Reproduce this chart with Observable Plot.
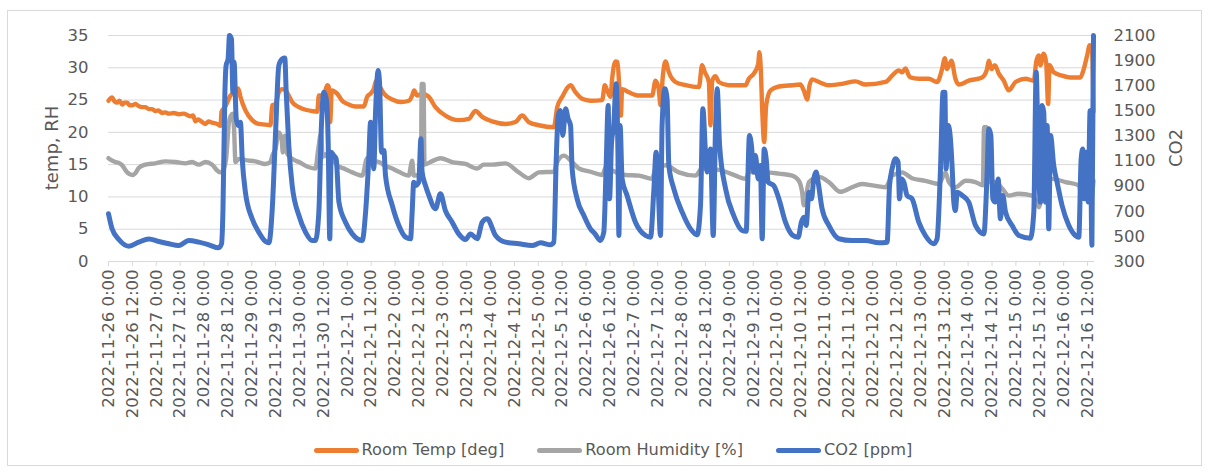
<!DOCTYPE html>
<html>
<head>
<meta charset="utf-8">
<script src="https://cdn.jsdelivr.net/npm/d3@7"></script>
<script src="https://cdn.jsdelivr.net/npm/@observablehq/plot@0.6"></script>
<style>
  body { margin: 0; background: #fff; }
  #chart { position: relative; width: 1212px; height: 474px; font-family: "DejaVu Sans", sans-serif; color: #595959; overflow: hidden; }
  #frame { position: absolute; left: 7px; top: 10px; width: 1195px; height: 456px; border: 1px solid #d9d9d9; box-sizing: border-box; }
  #plot { position: absolute; left: 0; top: 0; }
  .ytitle { position: absolute; font-size: 18px; white-space: nowrap; transform: translate(-50%, -50%) rotate(-90deg); }
  #legend { position: absolute; left: 0; top: 439px; width: 1226px; display: flex; justify-content: center; gap: 33px; font-size: 16.2px; line-height: 22px; }
  .item { display: flex; align-items: center; white-space: nowrap; }
  .swatch { width: 45px; height: 5px; border-radius: 3px; margin-right: 3px; }
</style>
</head>
<body>
<div id="chart">
  <div id="frame"></div>
  <div id="plot"></div>
  <div class="ytitle" style="left:51px; top:148px;">temp, RH</div>
  <div class="ytitle" style="left:1175px; top:148px;">CO2</div>
  <div id="legend"></div>
</div>
<script>
// Readings as [hours since 2022-11-26 0:00, value]
const startTime = Date.UTC(2022, 10, 26, 0, 0);

const tempReadings = [
  [0,24.9],[1.8,25.4],[3,24.8],[4.4,24.6],[5.5,24.9],[6.9,24.3],[8,24.6],[9.4,24.6],[10.5,24.2],[11.9,24.2],
  [13.6,24.4],[15,24.1],[16.9,23.9],[18.5,23.9],[20.3,23.6],[22,23.6],[23.6,23.3],[25,23.4],[27,23.0],[28.5,23.1],
  [30.3,22.9],[32.8,23.0],[35.3,22.8],[37.9,22.9],[39.5,22.7],[41.2,22.5],[42.5,22.6],[43.7,21.7],[45,22.0],[46.2,21.8],
  [48.7,21.3],[50.3,21.7],[52.1,21.5],[54.6,21.3],[56.3,21.0],[56.8,23.2],[58.5,23.9],[61.3,25.7],[64.2,26.5],[65.2,26.8],
  [66.3,25.5],[68.8,23.4],[72.2,21.9],[75.5,21.3],[78.9,21.2],[81.4,21.1],[82.3,24.2],[83.9,24.4],[85.6,26.2],[87.3,26.7],
  [89,26.5],[90.6,25.7],[92.3,24.7],[95.7,23.9],[99,23.5],[102.4,23.3],[104.9,23.2],[105.7,25.7],[108.2,25.7],[109.9,27.3],
  [110.7,27.0],[111.4,21.6],[112.2,26.5],[114.9,26.0],[117.4,24.9],[120.8,24.3],[124.1,24.0],[128.3,24.0],[130,25.5],[131.7,26.0],
  [133.3,26.7],[134.5,28.0],[135.9,27.3],[138.4,26.0],[142.6,25.1],[147,24.7],[150.9,24.9],[152.6,25.7],[153.6,26.5],[155.1,25.7],
  [157.6,26.0],[161,25.5],[164.3,23.9],[169.3,22.6],[176,21.9],[181.1,22.1],[184.4,23.3],[187.8,22.4],[192.8,21.7],[199.5,21.3],
  [204.5,21.6],[207.9,22.6],[211.2,21.6],[216.3,21.1],[223.8,20.8],[225.5,23.9],[228,25.5],[232.2,27.3],[234.7,26.2],[238,25.2],
  [242.2,24.9],[248.1,25.0],[249.4,27.3],[250.6,26.5],[252.3,25.5],[253.1,28.3],[254.8,31.0],[255.8,30.9],[256.8,26.2],[257.5,22.6],
  [258.1,26.7],[261.5,26.2],[266.5,25.7],[273.2,25.7],[274.9,28.0],[276.5,26.7],[277.4,24.2],[278.6,28.8],[279.9,31.0],[281.6,29.3],
  [284.9,27.8],[290,27.3],[296.7,27.0],[298.3,30.4],[299.7,29.3],[301.7,27.8],[302.5,21.1],[303.4,28.0],[305,28.7],[306.7,27.8],
  [311.7,27.3],[320.1,27.3],[321.8,28.3],[324.3,29.1],[326.5,30.6],[327.1,32.4],[327.8,29.8],[328.5,23.6],[329.5,18.5],[330.5,24.2],
  [332.7,26.5],[336.9,27.1],[343.6,27.3],[347.7,27.4],[349.4,26.5],[351.1,25.1],[352.3,27.3],[353.6,28.2],[357,27.8],[362,27.3],
  [368.7,27.5],[375.4,27.9],[380.4,27.4],[390.5,27.8],[393.8,28.8],[397.2,29.6],[398.8,29.3],[400.5,29.9],[402.2,28.8],[403,28.5],
  [407.2,28.3],[412.2,28.3],[416.4,27.8],[418.9,29.8],[420.3,31.5],[421.4,29.8],[423.6,31.1],[425.6,28.3],[427.3,27.4],[432.3,28.0],
  [439,28.5],[441.5,29.8],[442.4,31.1],[443.7,29.8],[445.4,30.4],[447.4,29.1],[449.9,28.0],[452.4,26.5],[455.8,27.8],[460.8,28.3],
  [465,28.0],[466.2,30.9],[467.5,31.9],[468.3,30.4],[470,32.2],[471.2,30.9],[472.2,24.4],[472.9,30.4],[475,29.3],[479.2,28.8],
  [484.3,28.5],[488.4,28.5],[490.1,29.8],[491.8,31.9],[493.1,33.5],[494.2,33.0],[495,23.2]
];

const humidityReadings = [
  [0,16.0],[2,15.6],[3.5,15.4],[5,15.3],[6.9,14.9],[8,14.4],[9.4,13.8],[11.9,13.4],[13.6,13.7],[15.2,14.5],
  [18.6,15.0],[23.6,15.2],[28.6,15.5],[33.7,15.4],[38.7,15.2],[42,15.4],[45.4,15.0],[48.7,15.4],[52.1,15.0],[54.6,14.1],
  [56.3,13.8],[58,14.4],[59.1,15.9],[60.5,21.5],[61.5,22.6],[62.5,22.9],[63.1,20.5],[63.8,15.4],[65.5,15.9],[68.8,15.7],
  [73.9,15.5],[78.9,15.1],[81.4,15.4],[82.3,16.4],[83.9,17.4],[85.6,20.0],[87,19.0],[87.6,16.9],[88.6,19.5],[89.8,16.7],
  [92.3,15.9],[95.7,15.4],[100.7,14.6],[104,14.4],[105.4,17.4],[106.8,19.8],[107.6,16.2],[109.1,16.6],[110.7,15.9],[112.4,15.8],
  [114.9,14.9],[119.1,14.3],[122.5,13.8],[127.5,13.3],[130,16.0],[132.5,15.6],[135.9,15.4],[139.2,14.8],[142.6,14.4],[145.9,13.9],
  [150.9,13.3],[152.6,15.6],[153.4,13.3],[156,13.4],[157,13.3],[157.4,27.5],[158.3,27.5],[158.8,15.0],[161.8,15.4],[166.8,16.0],
  [172.7,15.4],[179.4,15.1],[185.3,14.4],[188.6,15.0],[192.8,15.0],[199.5,15.2],[206.2,13.8],[211.2,12.9],[216.3,13.8],[223.8,13.9],
  [225.5,15.4],[228.8,16.4],[233,15.4],[236.4,14.4],[242.2,13.9],[248.1,13.4],[250,14.6],[253.1,14.1],[259.8,13.4],[266.5,13.3],
  [273.2,12.8],[274.9,14.4],[279.9,14.9],[286.6,13.8],[295,13.3],[298.3,14.4],[306.7,14.2],[315.1,13.3],[320.1,12.8],[322.6,14.2],
  [323.5,13.8],[330.2,13.8],[336.9,13.6],[343.6,13.3],[346.9,12.5],[348.6,10.7],[349.4,8.7],[350.6,10.2],[352,12.3],[357,13.1],
  [362,12.3],[367.8,10.8],[373.7,11.5],[378.7,12.0],[383.8,11.8],[390.5,11.5],[393.8,13.3],[398.8,13.8],[403.8,12.9],[410.5,12.5],
  [417.3,12.0],[420.6,13.8],[422.3,12.3],[425.6,11.5],[430.7,12.5],[435.7,12.3],[439.4,11.8],[440,20.8],[441.2,20.8],[441.8,12.3],
  [445.7,12.3],[449.1,11.3],[452.4,10.2],[457.5,10.5],[464.2,10.2],[466,9.5],[467.5,8.4],[469.2,10.2],[474.2,12.8],[480.9,12.3],
  [487.6,11.8],[489.3,9.7],[491.8,10.5],[493.5,9.2],[495,12.5]
];

const co2Readings = [
  [0,680],[1.8,560],[5.2,475],[10.2,422],[15.2,454],[20.3,480],[25.3,459],[30.3,441],[35.3,427],[40.4,467],
  [45.4,454],[50.4,433],[55.4,409],[56.8,441],[57.5,693],[58.5,1650],[59.1,1861],[60.1,1914],[60.8,2100],[61.8,2073],
  [62.5,1649],[63.1,1888],[64.2,1436],[65.2,1383],[66.3,1410],[67.2,1118],[68.8,852],[72.2,640],[75.5,534],[78.9,459],
  [80.6,449],[82.3,720],[83.9,1304],[85.6,1861],[87.3,1914],[88.6,1920],[89.3,1649],[90.6,1224],[92.3,905],[95.7,666],
  [99,534],[102.4,467],[104,467],[105.7,693],[107,1383],[108.2,1649],[109.4,1596],[110.4,1250],[111.2,481],[111.9,1171],
  [113.2,1144],[114.4,1118],[115.8,773],[119.1,613],[122.5,520],[127.5,467],[129.2,693],[130.8,1118],[131.7,1410],[132.5,1383],
  [133.3,1038],[134.2,1489],[135.5,1821],[136.2,1728],[137.2,1171],[138.4,1184],[139.2,985],[142.6,746],[145.9,587],[149.3,494],
  [151.8,481],[152.6,693],[153.4,932],[154.3,905],[155.9,932],[157,1277],[157.6,1012],[159.3,905],[161,826],[164.3,720],
  [166.8,839],[169.3,706],[172.7,613],[176,520],[179.4,475],[181.9,520],[185.3,481],[187.8,613],[190.3,640],[194.5,507],
  [199.5,454],[206.2,441],[212.9,427],[217.1,449],[222.1,433],[223.8,454],[225,1118],[226,1463],[227.1,1503],[228.3,1304],
  [229.7,1516],[231,1436],[232.2,1383],[233,1038],[235.5,799],[238.9,666],[242.2,560],[244.5,520],[247.2,467],[248.9,534],
  [250.1,1065],[251.1,1543],[251.8,799],[252.8,1250],[253.9,1383],[255.1,1715],[256,1171],[256.5,507],[257.1,1383],[258.1,958],
  [260.6,826],[264.8,613],[269.9,507],[272.4,494],[274,852],[275.2,1171],[276.2,905],[277.4,507],[278.2,1383],[279.6,1675],
  [280.7,1596],[281.6,1065],[284.1,879],[288.3,693],[292.5,560],[295.8,512],[297.5,746],[298.7,1516],[300,1171],[300.8,1012],
  [302.5,1197],[303.9,507],[305,1330],[305.9,1675],[307.1,1224],[310.1,879],[314.2,666],[318.4,547],[320.5,540],[321.2,905],
  [322.1,1304],[323.1,1224],[324.3,1012],[325.1,1144],[326.5,958],[327.6,1065],[328.5,481],[329.5,1197],[330.5,1118],[331.5,932],
  [334.3,905],[336.9,799],[340.2,613],[343.6,512],[346.6,494],[348.2,613],[349.4,653],[350.6,587],[352,852],[353.3,799],
  [354.4,958],[355.6,1012],[356.6,932],[358.6,720],[362,587],[367,481],[373.7,467],[380.4,467],[387.1,449],[391.3,454],
  [392.5,905],[393.8,1038],[395.5,1118],[396.8,1091],[397.5,799],[398.5,958],[399.7,932],[401.3,826],[403.8,799],[407.2,613],
  [410.5,507],[414.7,441],[416.4,481],[418.1,1038],[419.4,1649],[420.3,1649],[420.9,1038],[422,1383],[423.1,1277],[424,1038],
  [424.8,773],[425.6,706],[426.5,852],[429,826],[432.3,773],[435.7,587],[439.9,520],[441.5,985],[442.4,1357],[443.4,1304],
  [444.4,799],[445.7,773],[447.1,958],[448.2,640],[449.4,826],[450.8,693],[454.1,587],[457.5,507],[463.3,486],[465,693],
  [466.2,1808],[467.2,1144],[468.3,773],[469.2,1543],[470,1489],[470.9,773],[471.7,1383],[472.5,560],[473.4,1304],[475,1065],
  [476.7,932],[479.2,746],[482.6,587],[485.9,507],[487.6,494],[488.8,1118],[489.6,1197],[490.4,799],[491.3,1171],[492.3,773],
  [493.3,1500],[494.2,430],[495,2100]
];

const seriesNames = ["Room Temp [deg]", "Room Humidity [%]", "CO2 [ppm]"];
const seriesColors = ["#ED7D31", "#A5A5A5", "#4472C4"];
const leftTicks = [0, 5, 10, 15, 20, 25, 30, 35];
const co2Ticks = [300, 500, 700, 900, 1100, 1300, 1500, 1700, 1900, 2100];
const tickStepHours = 12;
const lastTickHour = 492;
const endHour = 495.5;

// CO2 shares the plot with the left scale: 300–2100 ppm spans 0–35
const co2Min = 300, co2Max = 2100, leftMax = 35;
const toLeft = (ppm) => (ppm - co2Min) / (co2Max - co2Min) * leftMax;
const toDate = (h) => new Date(startTime + h * 3600e3);

const xTicks = d3.range(0, lastTickHour + 1, tickStepHours).map(toDate);
const fmtDate = (d) => `${d.getUTCFullYear()}-${d.getUTCMonth() + 1}-${d.getUTCDate()} ${d.getUTCHours()}:00`;

const lineOpts = { strokeLinejoin: "round", strokeLinecap: "round", curve: "monotone-x" };

const chart = Plot.plot({
  width: 1212,
  height: 430,
  marginLeft: 108,
  marginRight: 118,
  marginTop: 35,
  marginBottom: 169,
  style: { fontFamily: "DejaVu Sans, sans-serif", fontSize: "16.5px", color: "#595959", background: "transparent", overflow: "visible" },
  x: { type: "utc", domain: [toDate(0), toDate(endHour)] },
  y: { domain: [0, leftMax] },
  marks: [
    Plot.gridY(leftTicks, { stroke: "#d9d9d9", strokeOpacity: 1, strokeWidth: 1 }),
    Plot.axisX(xTicks, {
      tickRotate: -90, tickSize: 5, tickPadding: 3, stroke: "#d9d9d9",
      tickFormat: fmtDate, label: null, fill: "#595959"
    }),
    Plot.axisY(leftTicks, { anchor: "left", tickSize: 0, tickPadding: 20, label: null, fill: "#595959" }),
    Plot.axisY(co2Ticks.map(toLeft), {
      anchor: "right", tickSize: 0, tickPadding: 19, label: null, fill: "#595959", textAnchor: "start",
      tickFormat: (v) => String(Math.round(co2Min + v / leftMax * (co2Max - co2Min)))
    }),
    Plot.line(tempReadings, { x: (d) => toDate(d[0]), y: (d) => d[1], stroke: seriesColors[0], strokeWidth: 4.4, ...lineOpts }),
    Plot.line(humidityReadings, { x: (d) => toDate(d[0]), y: (d) => d[1], stroke: seriesColors[1], strokeWidth: 4.4, ...lineOpts }),
    Plot.line(co2Readings, { x: (d) => toDate(d[0]), y: (d) => toLeft(d[1]), stroke: seriesColors[2], strokeWidth: 5, ...lineOpts })
  ]
});
document.getElementById("plot").appendChild(chart);

const legend = document.getElementById("legend");
seriesNames.forEach((name, i) => {
  const item = document.createElement("div");
  item.className = "item";
  const sw = document.createElement("span");
  sw.className = "swatch";
  sw.style.background = seriesColors[i];
  const label = document.createElement("span");
  label.textContent = name;
  item.append(sw, label);
  legend.appendChild(item);
});
</script>
</body>
</html>
